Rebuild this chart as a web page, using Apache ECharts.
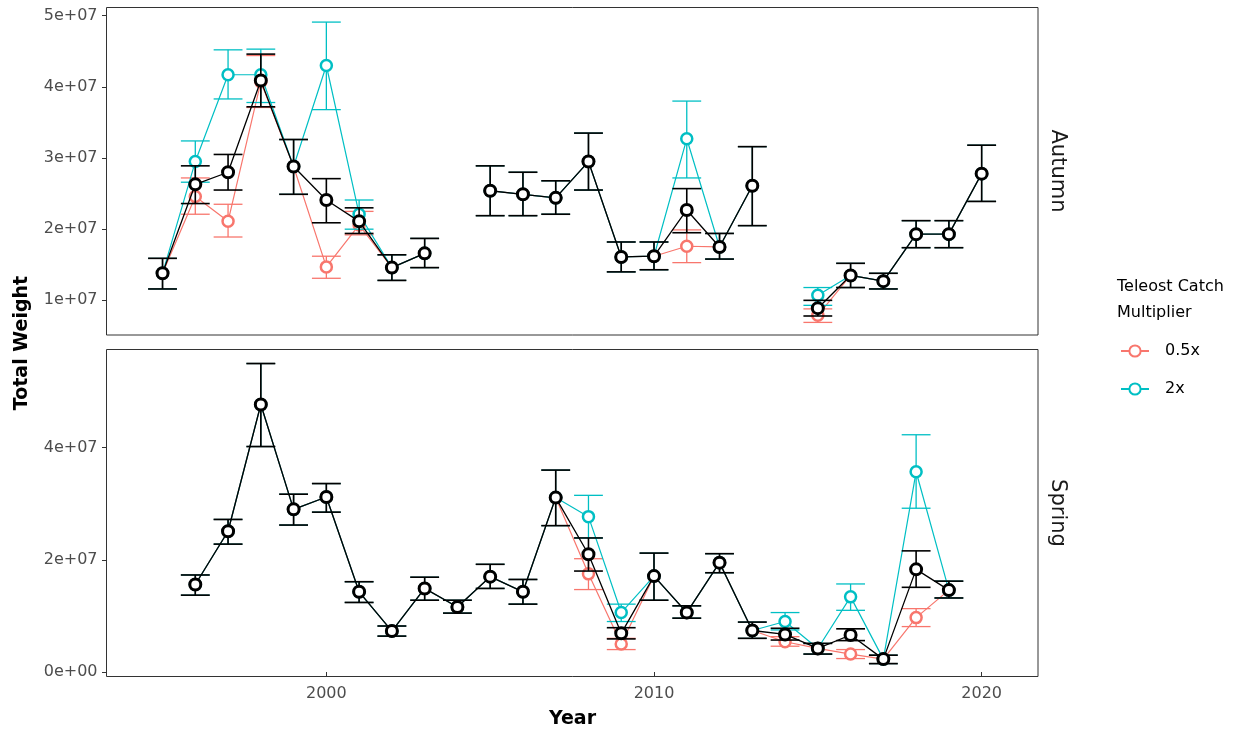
<!DOCTYPE html>
<html><head><meta charset="utf-8">
<script src="https://cdn.jsdelivr.net/npm/echarts@6/dist/echarts.min.js"></script>
<style>html,body{margin:0;padding:0;background:#fff}#c{width:1239px;height:733px}</style>
</head><body><div id="c"></div>
<script>
// ---------- data ----------
const years = [1995,1996,1997,1998,1999,2000,2001,2002,2003,2004,2005,2006,2007,2008,2009,2010,2011,2012,2013,2014,2015,2016,2017,2018,2019,2020];
const xTickValues = [2000, 2010, 2020];
const autumnTickValues = [1e7, 2e7, 3e7, 4e7, 5e7];
const springTickValues = [0, 2e7, 4e7];
const panels = ['Autumn', 'Spring'];
const multipliers = ['0.5x', '2x'];

// Autumn – baseline (black)
const autumnBase     = [1.38e7,2.63e7,2.80e7,4.09e7,2.88e7,2.41e7,2.11e7,1.46e7,1.66e7,null,2.54e7,2.49e7,2.44e7,2.95e7,1.61e7,1.62e7,2.27e7,1.75e7,2.61e7,null,0.89e7,1.35e7,1.27e7,1.93e7,1.93e7,2.78e7];
const autumnBaseLow  = [1.16e7,2.36e7,2.55e7,3.72e7,2.49e7,2.09e7,1.94e7,1.28e7,1.46e7,null,2.19e7,2.19e7,2.21e7,2.55e7,1.40e7,1.43e7,1.95e7,1.58e7,2.05e7,null,0.78e7,1.18e7,1.16e7,1.74e7,1.74e7,2.39e7];
const autumnBaseHigh = [1.59e7,2.89e7,3.05e7,4.46e7,3.26e7,2.71e7,2.30e7,1.64e7,1.87e7,null,2.89e7,2.80e7,2.68e7,3.35e7,1.82e7,1.82e7,2.57e7,1.94e7,3.16e7,null,1.00e7,1.52e7,1.38e7,2.12e7,2.12e7,3.18e7];
// Autumn – 0.5x
const autumnHalf     = [1.38e7,2.46e7,2.11e7,4.07e7,2.88e7,1.47e7,2.06e7,1.46e7,1.66e7,null,2.54e7,2.49e7,2.44e7,2.95e7,1.61e7,1.62e7,1.76e7,1.75e7,2.61e7,null,0.79e7,1.35e7,1.27e7,1.93e7,1.93e7,2.78e7];
const autumnHalfLow  = [1.16e7,2.21e7,1.89e7,3.71e7,2.49e7,1.31e7,1.92e7,1.28e7,1.46e7,null,2.19e7,2.19e7,2.21e7,2.55e7,1.40e7,1.43e7,1.53e7,1.58e7,2.05e7,null,0.69e7,1.18e7,1.16e7,1.74e7,1.74e7,2.39e7];
const autumnHalfHigh = [1.59e7,2.72e7,2.35e7,4.44e7,3.26e7,1.62e7,2.25e7,1.64e7,1.87e7,null,2.89e7,2.80e7,2.68e7,3.35e7,1.82e7,1.82e7,1.99e7,1.94e7,3.16e7,null,0.88e7,1.52e7,1.38e7,2.12e7,2.12e7,3.18e7];
// Autumn – 2x
const autumnDouble     = [1.38e7,2.95e7,4.17e7,4.17e7,2.88e7,4.30e7,2.21e7,1.46e7,1.66e7,null,2.54e7,2.49e7,2.44e7,2.95e7,1.61e7,1.62e7,3.27e7,1.75e7,2.61e7,null,1.07e7,1.35e7,1.27e7,1.93e7,1.93e7,2.78e7];
const autumnDoubleLow  = [1.16e7,2.66e7,3.83e7,3.78e7,2.49e7,3.68e7,2.00e7,1.28e7,1.46e7,null,2.19e7,2.19e7,2.21e7,2.55e7,1.40e7,1.43e7,2.72e7,1.58e7,2.05e7,null,0.93e7,1.18e7,1.16e7,1.74e7,1.74e7,2.39e7];
const autumnDoubleHigh = [1.59e7,3.24e7,4.52e7,4.53e7,3.26e7,4.91e7,2.41e7,1.64e7,1.87e7,null,2.89e7,2.80e7,2.68e7,3.35e7,1.82e7,1.82e7,3.80e7,1.94e7,3.16e7,null,1.18e7,1.52e7,1.38e7,2.12e7,2.12e7,3.18e7];

// Spring – baseline (black)
const springBase     = [null,1.56e7,2.51e7,4.77e7,2.90e7,3.12e7,1.43e7,0.73e7,1.49e7,1.16e7,1.70e7,1.43e7,3.11e7,2.10e7,0.69e7,1.71e7,1.06e7,1.95e7,0.74e7,0.67e7,0.42e7,0.66e7,0.23e7,1.83e7,1.46e7,null];
const springBaseLow  = [null,1.37e7,2.28e7,4.02e7,2.62e7,2.85e7,1.24e7,0.64e7,1.28e7,1.05e7,1.49e7,1.21e7,2.61e7,1.80e7,0.59e7,1.28e7,0.96e7,1.77e7,0.60e7,0.57e7,0.32e7,0.56e7,0.15e7,1.51e7,1.32e7,null];
const springBaseHigh = [null,1.73e7,2.72e7,5.50e7,3.17e7,3.36e7,1.61e7,0.82e7,1.69e7,1.28e7,1.92e7,1.65e7,3.60e7,2.39e7,0.79e7,2.12e7,1.18e7,2.11e7,0.89e7,0.78e7,0.51e7,0.77e7,0.30e7,2.16e7,1.62e7,null];
// Spring – 0.5x
const springHalf     = [null,1.56e7,2.51e7,4.77e7,2.90e7,3.12e7,1.43e7,0.73e7,1.49e7,1.16e7,1.70e7,1.43e7,3.11e7,1.75e7,0.50e7,1.71e7,1.06e7,1.95e7,0.74e7,0.54e7,0.42e7,0.32e7,0.23e7,0.97e7,1.46e7,null];
const springHalfLow  = [null,1.37e7,2.28e7,4.02e7,2.62e7,2.85e7,1.24e7,0.64e7,1.28e7,1.05e7,1.49e7,1.21e7,2.61e7,1.47e7,0.40e7,1.28e7,0.96e7,1.77e7,0.60e7,0.46e7,0.32e7,0.24e7,0.15e7,0.81e7,1.32e7,null];
const springHalfHigh = [null,1.73e7,2.72e7,5.50e7,3.17e7,3.36e7,1.61e7,0.82e7,1.69e7,1.28e7,1.92e7,1.65e7,3.60e7,2.02e7,0.60e7,2.12e7,1.18e7,2.11e7,0.89e7,0.63e7,0.51e7,0.40e7,0.30e7,1.13e7,1.62e7,null];
// Spring – 2x
const springDouble     = [null,1.56e7,2.51e7,4.77e7,2.90e7,3.12e7,1.43e7,0.73e7,1.49e7,1.16e7,1.70e7,1.43e7,3.11e7,2.77e7,1.06e7,1.71e7,1.06e7,1.95e7,0.74e7,0.90e7,0.42e7,1.34e7,0.23e7,3.57e7,1.46e7,null];
const springDoubleLow  = [null,1.37e7,2.28e7,4.02e7,2.62e7,2.85e7,1.24e7,0.64e7,1.28e7,1.05e7,1.49e7,1.21e7,2.61e7,2.39e7,0.90e7,1.28e7,0.96e7,1.77e7,0.60e7,0.75e7,0.32e7,1.10e7,0.15e7,2.92e7,1.32e7,null];
const springDoubleHigh = [null,1.73e7,2.72e7,5.50e7,3.17e7,3.36e7,1.61e7,0.82e7,1.69e7,1.28e7,1.92e7,1.65e7,3.60e7,3.15e7,1.21e7,2.12e7,1.18e7,2.11e7,0.89e7,1.06e7,0.51e7,1.57e7,0.30e7,4.23e7,1.62e7,null];

// ---------- styling ----------
const FONT = 'DejaVu Sans';
const RED = '#F8766D', CYAN = '#00BFC4', BLACK = '#000000';
const CAP_YEARS = 0.88;

function sci(v) {
  if (v === 0) return '0e+00';
  const e = Math.floor(Math.log10(Math.abs(v)) + 1e-9);
  const m = v / Math.pow(10, e);
  return (Math.round(m * 10) / 10) + 'e' + (e >= 0 ? '+' : '-') + String(Math.abs(e)).padStart(2, '0');
}

function lineData(vals) {
  return years.map((y, i) => [y, vals[i] == null ? '-' : vals[i]]);
}
function errData(lo, hi) {
  const out = [];
  years.forEach((y, i) => { if (lo[i] != null && hi[i] != null) out.push([y, lo[i], hi[i]]); });
  return out;
}
function errSeries(name, idx, lo, hi, color, lw, z) {
  return {
    type: 'custom', name: name, xAxisIndex: idx, yAxisIndex: idx, z: z,
    silent: true, animation: false,
    data: errData(lo, hi),
    encode: { x: 0, y: [1, 2] },
    renderItem: function (params, api) {
      const x = api.value(0);
      const pHi = api.coord([x, api.value(2)]);
      const pLo = api.coord([x, api.value(1)]);
      const hw = api.size([CAP_YEARS, 0])[0] / 2;
      const st = { stroke: color, lineWidth: lw, fill: null };
      return {
        type: 'group', children: [
          { type: 'line', shape: { x1: pHi[0], y1: pHi[1], x2: pLo[0], y2: pLo[1] }, style: st },
          { type: 'line', shape: { x1: pHi[0] - hw, y1: pHi[1], x2: pHi[0] + hw, y2: pHi[1] }, style: st },
          { type: 'line', shape: { x1: pLo[0] - hw, y1: pLo[1], x2: pLo[0] + hw, y2: pLo[1] }, style: st }
        ]
      };
    }
  };
}
function lineSeries(name, idx, vals, color, lw, bw, z) {
  return {
    type: 'line', name: name, xAxisIndex: idx, yAxisIndex: idx, z: z,
    data: lineData(vals), connectNulls: false, animation: false,
    symbol: 'circle', symbolSize: 11, showSymbol: true,
    itemStyle: { color: '#ffffff', borderColor: color, borderWidth: bw },
    lineStyle: { color: color, width: lw },
    emphasis: { disabled: true }
  };
}

const gridLeft = 106.5, gridWidth = 931.5;
const xMin = 1993.29, xMax = 2021.72;

function xAxis(idx, showLabels) {
  return {
    type: 'value', gridIndex: idx, min: xMin, max: xMax,
    axisLine: { show: false },
    splitLine: { show: false },
    axisTick: { show: showLabels, customValues: xTickValues, length: 4.5, lineStyle: { color: '#333333', width: 1 } },
    axisLabel: { show: showLabels, customValues: xTickValues, color: '#4D4D4D', fontFamily: FONT, fontSize: 16, margin: 9, formatter: v => String(v) }
  };
}
function yAxis(idx, min, max, ticks) {
  return {
    type: 'value', gridIndex: idx, min: min, max: max,
    axisLine: { show: false },
    splitLine: { show: false },
    axisTick: { show: true, customValues: ticks, length: 4.5, lineStyle: { color: '#333333', width: 1 } },
    axisLabel: { customValues: ticks, color: '#4D4D4D', fontFamily: FONT, fontSize: 16, margin: 9, formatter: sci }
  };
}

const series = [];
const sets = [
  { idx: 0, half: [autumnHalf, autumnHalfLow, autumnHalfHigh], dbl: [autumnDouble, autumnDoubleLow, autumnDoubleHigh], base: [autumnBase, autumnBaseLow, autumnBaseHigh] },
  { idx: 1, half: [springHalf, springHalfLow, springHalfHigh], dbl: [springDouble, springDoubleLow, springDoubleHigh], base: [springBase, springBaseLow, springBaseHigh] }
];
sets.forEach(s => {
  series.push(errSeries('err0.5x' + s.idx, s.idx, s.half[1], s.half[2], RED, 1.3, 2));
  series.push(lineSeries(multipliers[0], s.idx, s.half[0], RED, 1.2, 2.5, 3));
  series.push(errSeries('err2x' + s.idx, s.idx, s.dbl[1], s.dbl[2], CYAN, 1.3, 4));
  series.push(lineSeries(multipliers[1], s.idx, s.dbl[0], CYAN, 1.2, 2.5, 5));
  series.push(errSeries('errbase' + s.idx, s.idx, s.base[1], s.base[2], BLACK, 1.6, 6));
  series.push(lineSeries('1x', s.idx, s.base[0], BLACK, 1.3, 3, 7));
});

const chart = echarts.init(document.getElementById('c'), null, { renderer: 'canvas' });
chart.setOption({
  backgroundColor: '#ffffff',
  animation: false,
  textStyle: { fontFamily: FONT },
  grid: [
    { left: gridLeft, top: 7.5, width: gridWidth, height: 327.5, show: true, borderColor: '#333333', borderWidth: 1, backgroundColor: '#ffffff', containLabel: false, outerBoundsMode: 'none' },
    { left: gridLeft, top: 349.5, width: gridWidth, height: 327, show: true, borderColor: '#333333', borderWidth: 1, backgroundColor: '#ffffff', containLabel: false, outerBoundsMode: 'none' }
  ],
  xAxis: [xAxis(0, false), xAxis(1, true)],
  yAxis: [yAxis(0, 0.513e7, 5.115e7, autumnTickValues), yAxis(1, -0.08e7, 5.75e7, springTickValues)],
  legend: {
    data: multipliers, orient: 'vertical', left: 1120, top: 343, padding: 0,
    itemWidth: 28, itemHeight: 14, itemGap: 22, selectedMode: false,
    textStyle: { color: '#000000', fontFamily: FONT, fontSize: 16, padding: [0, 0, 0, 11] }
  },
  graphic: [
    { type: 'text', x: 1057, y: 171, rotation: -Math.PI / 2, style: { text: panels[0], fontFamily: FONT, fontSize: 21, fill: '#1A1A1A', align: 'center', verticalAlign: 'middle' } },
    { type: 'text', x: 1057, y: 513, rotation: -Math.PI / 2, style: { text: panels[1], fontFamily: FONT, fontSize: 21, fill: '#1A1A1A', align: 'center', verticalAlign: 'middle' } },
    { type: 'text', x: 22, y: 343, rotation: Math.PI / 2, style: { text: 'Total Weight', fontFamily: FONT, fontSize: 19, fontWeight: 'bold', fill: '#000000', align: 'center', verticalAlign: 'middle' } },
    { type: 'text', x: 572.5, y: 719, style: { text: 'Year', fontFamily: FONT, fontSize: 19, fontWeight: 'bold', fill: '#000000', align: 'center', verticalAlign: 'middle' } },
    { type: 'text', x: 1117, y: 287, style: { text: 'Teleost Catch', fontFamily: FONT, fontSize: 16, fill: '#000000', align: 'left', verticalAlign: 'middle' } },
    { type: 'text', x: 1117, y: 313, style: { text: 'Multiplier', fontFamily: FONT, fontSize: 16, fill: '#000000', align: 'left', verticalAlign: 'middle' } }
  ],
  series: series
});
</script>
</body></html>
